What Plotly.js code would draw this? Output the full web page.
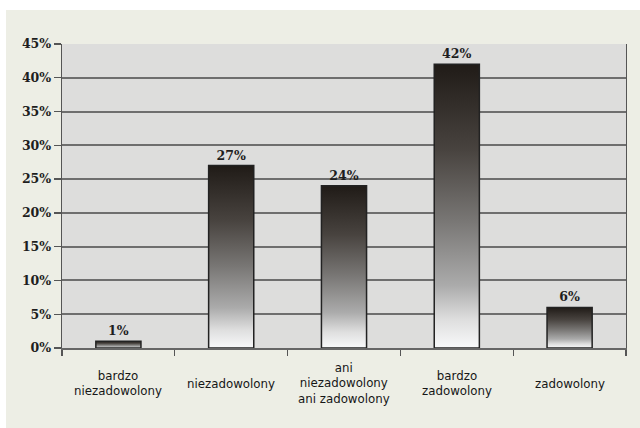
<!DOCTYPE html>
<html>
<head>
<meta charset="utf-8">
<script src="https://cdn.plot.ly/plotly-3.0.1.min.js"></script>
<style>
  html, body { margin: 0; padding: 0; background: #ffffff; }
  #chart { position: absolute; left: 6px; top: 10px; width: 634px; height: 418px; }
</style>
</head>
<body>
<div id="chart"></div>
<script>
// Survey answers (share of respondents, %)
const categories = [
  'bardzo niezadowolony',
  'niezadowolony',
  'ani niezadowolony ani zadowolony',
  'bardzo zadowolony',
  'zadowolony'
];
const categoryLabels = [
  'bardzo<br>niezadowolony',
  'niezadowolony',
  'ani<br>niezadowolony<br>ani zadowolony',
  'bardzo<br>zadowolony',
  'zadowolony'
];
const values = [1, 27, 24, 42, 6];
const valueLabels = values.map(v => v + '%');

const serifBold = { family: '"DejaVu Serif", serif', size: 12.5, color: '#1e1e1e', weight: 'bold' };
const sansLabel = { family: '"DejaVu Sans", sans-serif', size: 11.8, color: '#161616' };

const trace = {
  type: 'bar',
  x: categories,
  y: values,
  width: 0.4,
  text: valueLabels,
  textposition: 'outside',
  textfont: serifBold,
  cliponaxis: false,
  hoverinfo: 'none',
  marker: {
    color: '#777777',
    line: { color: '#222222', width: 1.5 }
  }
};

// Category names centred vertically under each column
const categoryAnnotations = categories.map((c, i) => ({
  x: c,
  xref: 'x',
  y: -0.118,
  yref: 'paper',
  yanchor: 'middle',
  xanchor: 'center',
  text: categoryLabels[i],
  showarrow: false,
  font: sansLabel,
  align: 'center'
}));

const layout = {
  width: 634,
  height: 418,
  margin: { l: 56, r: 14, t: 34, b: 80 },
  paper_bgcolor: '#edeee5',
  plot_bgcolor: '#dddddc',
  showlegend: false,
  bargap: 0.6,
  xaxis: {
    type: 'category',
    showticklabels: false,
    ticks: 'outside',
    tickson: 'boundaries',
    ticklen: 6,
    tickwidth: 1.3,
    tickcolor: '#555555',
    showline: true,
    linecolor: '#666666',
    linewidth: 1.5,
    showgrid: false,
    fixedrange: true
  },
  yaxis: {
    range: [0, 45],
    dtick: 5,
    ticksuffix: '%',
    tickfont: serifBold,
    ticks: 'outside',
    ticklen: 7,
    tickwidth: 1.3,
    tickcolor: '#555555',
    showline: true,
    mirror: true,
    linecolor: '#555555',
    linewidth: 1.3,
    showgrid: true,
    gridcolor: '#6e6e6e',
    gridwidth: 2,
    zeroline: false,
    fixedrange: true
  },
  annotations: categoryAnnotations
};

Plotly.newPlot('chart', [trace], layout, { displayModeBar: false, staticPlot: true }).then(gd => {
  // Vertical dark-to-white shading inside every bar
  const svg = gd.querySelector('svg.main-svg');
  const ns = 'http://www.w3.org/2000/svg';
  let defs = svg.querySelector('defs');
  if (!defs) { defs = document.createElementNS(ns, 'defs'); svg.insertBefore(defs, svg.firstChild); }
  const grad = document.createElementNS(ns, 'linearGradient');
  grad.setAttribute('id', 'barShade');
  grad.setAttribute('x1', '0'); grad.setAttribute('y1', '0');
  grad.setAttribute('x2', '0'); grad.setAttribute('y2', '1');
  [
    ['0', '#201b17'],
    ['0.3', '#48433f'],
    ['0.55', '#787674'],
    ['0.78', '#ababab'],
    ['0.9', '#dedede'],
    ['1', '#f8f9fa']
  ].forEach(([o, c]) => {
    const s = document.createElementNS(ns, 'stop');
    s.setAttribute('offset', o);
    s.setAttribute('stop-color', c);
    grad.appendChild(s);
  });
  defs.appendChild(grad);
  gd.querySelectorAll('.barlayer .point path').forEach(p => {
    p.style.setProperty('fill', 'url(#barShade)');
    p.style.setProperty('fill-opacity', '1');
  });
});
</script>
</body>
</html>
